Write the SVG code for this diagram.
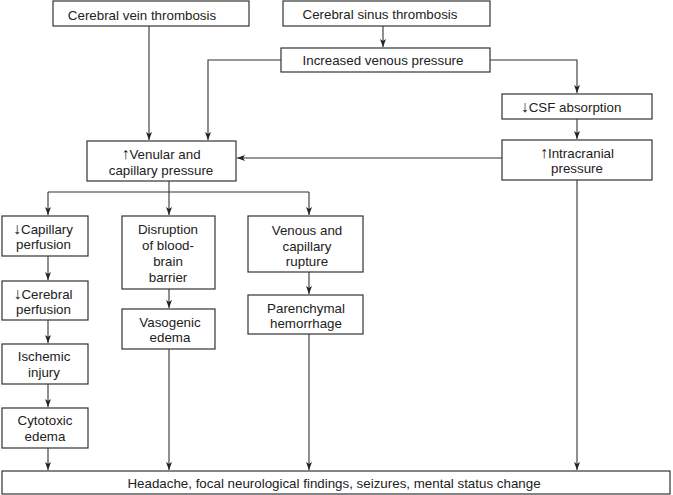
<svg xmlns="http://www.w3.org/2000/svg" width="673" height="495" viewBox="0 0 673 495">
<style>
rect{fill:#fff;stroke:#333;stroke-width:1.2}
text{font-family:"Liberation Sans",Arial,sans-serif;font-size:13.35px;fill:#222;text-anchor:middle}
.a{font-size:16px}
.c{fill:none;stroke:#333;stroke-width:1.1}
</style>
<defs>
<marker id="ah" markerWidth="8" markerHeight="8" viewBox="0 0 8 8" refX="8" refY="4" orient="auto" markerUnits="userSpaceOnUse">
<path d="M0,1 L8,4 L0,7 L2,4 Z" fill="#222"/>
</marker>
</defs>
<rect x="0" y="0" width="673" height="495" style="fill:#fff;stroke:none"/>
<g id="connectors">
<path class="c" d="M149,26 V140" marker-end="url(#ah)"/>
<path class="c" d="M383,26 V47" marker-end="url(#ah)"/>
<path class="c" d="M281,60 H208 V140" marker-end="url(#ah)"/>
<path class="c" d="M490,60 H577 V93" marker-end="url(#ah)"/>
<path class="c" d="M577,119 V139" marker-end="url(#ah)"/>
<path class="c" d="M502,158 H237" marker-end="url(#ah)"/>
<path class="c" d="M169,181 V192"/>
<path class="c" d="M48,192 H309"/>
<path class="c" d="M48,192 V215" marker-end="url(#ah)"/>
<path class="c" d="M169,192 V215" marker-end="url(#ah)"/>
<path class="c" d="M309,192 V215" marker-end="url(#ah)"/>
<path class="c" d="M48,256 V280" marker-end="url(#ah)"/>
<path class="c" d="M48,320 V343" marker-end="url(#ah)"/>
<path class="c" d="M48,384 V407" marker-end="url(#ah)"/>
<path class="c" d="M48,448 V470" marker-end="url(#ah)"/>
<path class="c" d="M169,289 V308" marker-end="url(#ah)"/>
<path class="c" d="M169,349 V470" marker-end="url(#ah)"/>
<path class="c" d="M309,272 V294" marker-end="url(#ah)"/>
<path class="c" d="M309,334 V470" marker-end="url(#ah)"/>
<path class="c" d="M577,180 V470" marker-end="url(#ah)"/>
</g>
<g id="vein"><rect x="53" y="1" width="196" height="25"/><text x="142" y="19.5">Cerebral vein thrombosis</text></g>
<g id="sinus"><rect x="283" y="1" width="207" height="25"/><text x="380" y="18.5">Cerebral sinus thrombosis</text></g>
<g id="venous"><rect x="281" y="48" width="209" height="24"/><text x="383" y="64.5">Increased venous pressure</text></g>
<g id="csf"><rect x="502" y="94" width="150" height="25"/><text x="571" y="111.5"><tspan class="a">↓</tspan>CSF absorption</text></g>
<g id="icp"><rect x="502" y="140" width="150" height="40"/><text x="577" y="157.5"><tspan class="a">↑</tspan>Intracranial</text><text x="577" y="172.5">pressure</text></g>
<g id="venular"><rect x="87" y="141" width="149" height="40"/><text x="161" y="158.5"><tspan class="a">↑</tspan>Venular and</text><text x="161" y="174.5">capillary pressure</text></g>
<g id="capperf"><rect x="2" y="216" width="86" height="40"/><text x="43" y="233.5"><tspan class="a">↓</tspan>Capillary</text><text x="43.5" y="248.5">perfusion</text></g>
<g id="bbb"><rect x="122" y="216" width="93" height="73"/><text x="168" y="233.5">Disruption</text><text x="168" y="249.5">of blood-</text><text x="168" y="265.5">brain</text><text x="168" y="281.5">barrier</text></g>
<g id="rupture"><rect x="248" y="216" width="115" height="56"/><text x="307" y="234.5">Venous and</text><text x="307" y="250.5">capillary</text><text x="307" y="266">rupture</text></g>
<g id="cerperf"><rect x="2" y="281" width="86" height="39"/><text x="43" y="298.5"><tspan class="a">↓</tspan>Cerebral</text><text x="43.5" y="313.5">perfusion</text></g>
<g id="vasogenic"><rect x="122" y="309" width="93" height="40"/><text x="170" y="326.5">Vasogenic</text><text x="170" y="341.5">edema</text></g>
<g id="hemorrhage"><rect x="248" y="295" width="115" height="39"/><text x="306" y="312.5">Parenchymal</text><text x="306" y="327.5">hemorrhage</text></g>
<g id="ischemic"><rect x="2" y="344" width="86" height="40"/><text x="44" y="360.5">Ischemic</text><text x="44" y="377">injury</text></g>
<g id="cytotoxic"><rect x="2" y="408" width="86" height="40"/><text x="45" y="424.5">Cytotoxic</text><text x="45" y="440.5">edema</text></g>
<g id="symptoms"><rect x="2" y="471" width="668" height="23"/><text x="334" y="487.5">Headache, focal neurological findings, seizures, mental status change</text></g>
</svg>
